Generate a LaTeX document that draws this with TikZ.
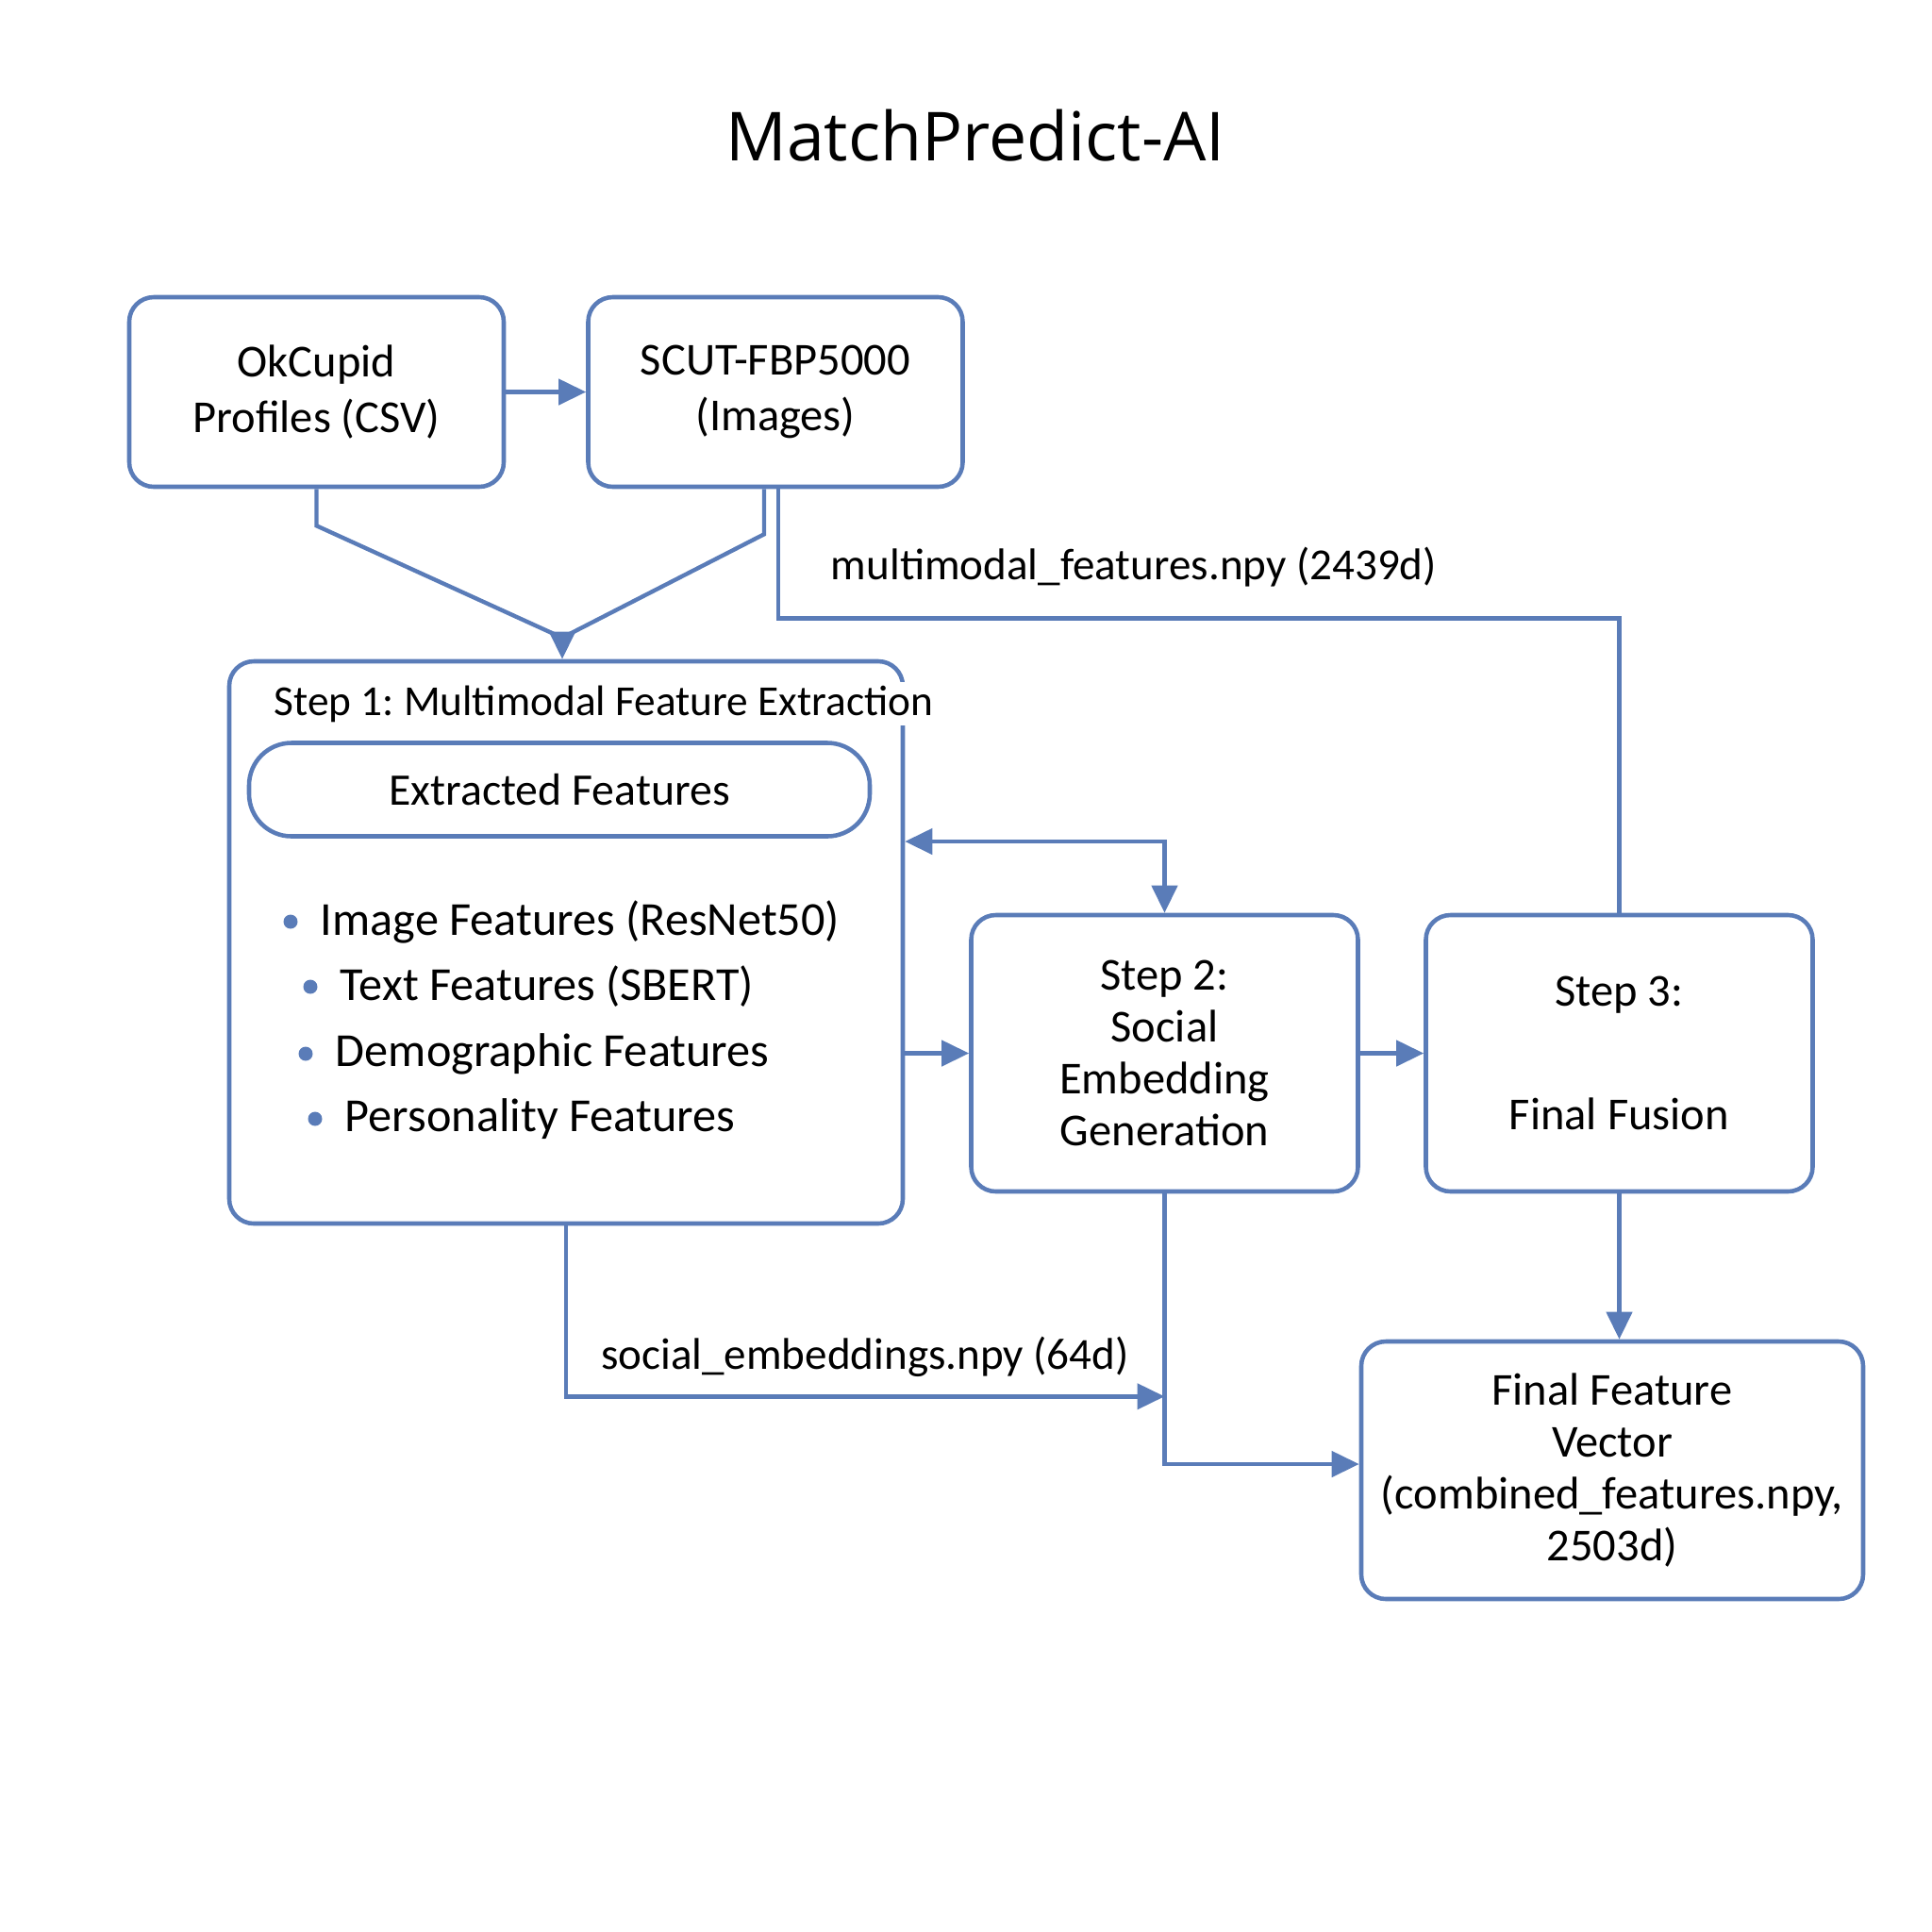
\documentclass[tikz,border=0pt]{standalone}
\usepackage{fontspec}
\setmainfont{Carlito}
\newfontfamily\titlefont{Open Sans}
\usetikzlibrary{arrows.meta,positioning}
\definecolor{lineblue}{HTML}{5A7CB8}
\frenchspacing
\tikzset{
    %Define standard arrow tip
    >={Triangle[length=2.9mm,width=2.7mm]},
    %Define style for boxes
    srcbox/.style={
           rectangle,
           rounded corners=2.6mm,
           draw=lineblue, line width=1.3pt,
           minimum width=3.97cm,
           minimum height=2.01cm,
           align=center,
           font=\fontsize{13.8}{16.8}\selectfont},
    stepbox/.style={
           rectangle,
           rounded corners=2.6mm,
           draw=lineblue, line width=1.3pt,
           minimum width=4.1cm,
           minimum height=2.93cm,
           align=center,
           font=\fontsize{13.8}{15.6}\selectfont},
    featbox/.style={
           rectangle,
           rounded corners=4.5mm,
           draw=lineblue, line width=1.3pt,
           minimum width=6.58cm,
           minimum height=0.99cm,
           font=\fontsize{13.6}{16}\selectfont},
    % Define bullet and list text
    dot/.style={
           circle,
           fill=lineblue,
           inner sep=0pt,
           minimum size=0.15cm},
    item/.style={
           inner sep=0pt,
           anchor=west,
           font=\fontsize{14.3}{17}\selectfont},
    lbl/.style={
           font=\fontsize{13.4}{16}\selectfont},
    % Define arrow style
    pil/.style={
           draw=lineblue,
           line width=1.25pt}
}
\begin{document}
\begin{tikzpicture}
\useasboundingbox (0,0) rectangle (20.48,-20.48);

\node[font=\titlefont\fontsize{20.4}{24}\selectfont] (title) at (10.34,-1.44) {MatchPredict-AI};

%sources
\node[srcbox] (okc) at (3.355,-4.155) {OkCupid\\Profiles (CSV)};
\node[srcbox] (scut) at (8.22,-4.155) {SCUT-FBP5000\\(Images)};

%step 1 with its feature list
\node[stepbox, minimum width=7.14cm, minimum height=5.96cm] (step1) at (6.0,-9.99) {};
\node[fill=white, inner sep=1pt, font=\fontsize{12.9}{15}\selectfont] (step1title) at (6.4,-7.46) {Step 1: Multimodal Feature Extraction};
\node[featbox] (feat) at (5.93,-8.37) {Extracted Features};

\node[dot] (dot1) at (3.08,-9.77) {};
\node[item, right=0.23cm of dot1] (item1) {Image Features (ResNet50)};
\node[dot] (dot2) at (3.29,-10.46) {};
\node[item, right=0.23cm of dot2] (item2) {Text Features (SBERT)};
\node[dot] (dot3) at (3.24,-11.17) {};
\node[item, right=0.23cm of dot3] (item3) {Demographic Features};
\node[dot] (dot4) at (3.34,-11.86) {};
\node[item, right=0.23cm of dot4] (item4) {Personality Features};

%steps 2 and 3, result
\node[stepbox] (step2) at (12.345,-11.165) {Step 2:\\Social\\Embedding\\Generation};
\node[stepbox] (step3) at (17.165,-11.165) {Step 3:\\[0.77cm]Final Fusion};
\node[stepbox, minimum width=5.32cm, minimum height=2.73cm] (final) at (17.09,-15.585) {Final Feature\\Vector\\(combined\_features.npy,\\2503d)};

%connectors
\draw[pil,->] (okc.east) -- (scut.west);
\coordinate (merge) at (5.96,-6.76);
\draw[pil] (okc.south) -- ++(0,-0.39) -- (merge);
\draw[pil] ([xshift=-1.2mm]scut.south) -- ++(0,-0.48) -- (merge);
\draw[pil,->] (merge) -- (merge |- step1.north);

\draw[pil] ([xshift=0.3mm]scut.south) -- ++(0,-1.37) -| (step3.north);
\node[lbl] (mmlabel) at (12.02,-6.01) {multimodal\_features.npy (2439d)};

\draw[pil,<->] ([yshift=1.07cm]step1.east) -| (step2.north);
\draw[pil,->] (step1.east |- step2.west) -- (step2.west);
\draw[pil,->] (step2.east) -- (step3.west);
\draw[pil,->] (step3.south) -- (step3.south |- final.north);

\path (step2.south) ++(0,-2.15) coordinate (embjoin);
\draw[pil,->] (step1.south) |- (embjoin);
\node[lbl] (emblabel) at (9.17,-14.38) {social\_embeddings.npy (64d)};
\draw[pil,->] (step2.south) |- ([yshift=0.065cm]final.west);

\end{tikzpicture}
\end{document}
